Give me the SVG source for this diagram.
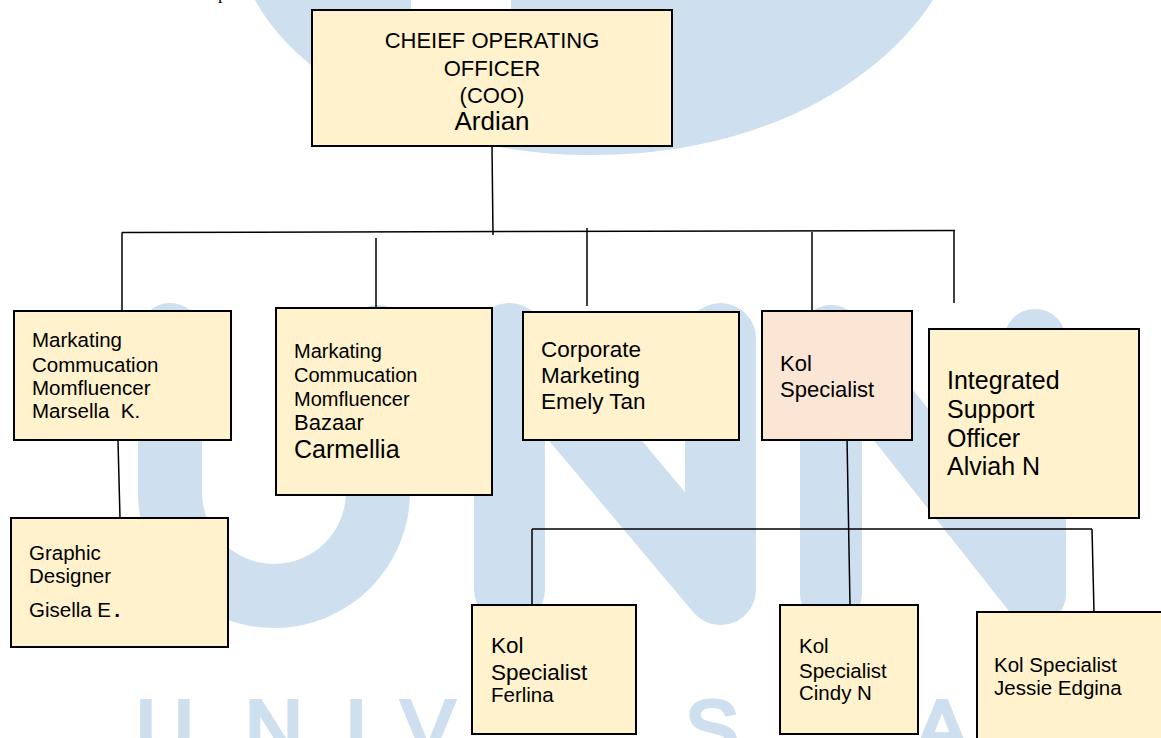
<svg xmlns="http://www.w3.org/2000/svg" width="1161" height="738" viewBox="0 0 1161 738">
<style>
.wm{fill:#cedfef}
.wms{stroke:#cedfef;fill:none;stroke-linecap:round}
.wl{fill:#cedfef;stroke:#cedfef;stroke-width:4;font-family:"Liberation Sans",Arial,sans-serif;font-size:80px;text-anchor:middle}
.box{fill:#fff2cc;stroke:#000;stroke-width:2}
.peach{fill:#fbe5d5}
.t{font-family:"Liberation Sans",Arial,sans-serif;fill:#000}
.ln{stroke:#000;stroke-width:1.5;fill:none}
</style>
<rect width="1161" height="738" fill="#fff"/>
<g id="watermark">
<path class="wm" d="M255,0 C295,75 420,155 592,155 C770,155 885,75 933,0 Z"/>
<rect x="411" y="0" width="100" height="9" fill="#fff"/>
<path class="wm" d="M138,335 A32,32 0 0 1 202,335 L202,492 A72,72 0 0 0 346,492 L346,337 A32,32 0 0 1 410,337 L410,492 A136,136 0 0 1 138,492 Z"/>
<path class="wms" stroke-width="71" d="M509.5,338.5 V589.5 M720.5,338.5 V589.5 M509.5,338.5 L720.5,589.5"/>
<path class="wms" stroke-width="62" d="M831,336 V594 M1035,340 V594 M831,336 L1035,594"/>
<text class="wl" x="165" y="756">U</text>
<text class="wl" x="274" y="756">N</text>
<text class="wl" x="356" y="756">I</text>
<text class="wl" x="428" y="756">V</text>
<text class="wl" x="712" y="756">S</text>
<text class="wl" x="942" y="756">A</text>
</g>
<text x="218" y="-1" font-family="Liberation Serif, serif" font-size="18">p</text>
<g id="connectors" class="ln">
<path d="M492,146 L493,235"/>
<path d="M122,232.5 L955,230.5"/>
<path d="M122,232.5 V310"/>
<path d="M376,238 V308"/>
<path d="M587,228 V306"/>
<path d="M812,232 V310"/>
<path d="M954,231 V303"/>
<path d="M118,441 L120,518"/>
<path d="M847,437 L850,605"/>
<path d="M532,529 H1092"/>
<path d="M532,529 V605"/>
<path d="M1092,529 L1094,612"/>
</g>
<g id="coo">
<rect class="box" x="312" y="10" width="360" height="136"/>
<text class="t" font-size="22" text-anchor="middle"><tspan x="492" y="48">CHEIEF OPERATING</tspan><tspan x="492" y="76">OFFICER</tspan><tspan x="492" y="103">(COO)</tspan><tspan x="492" y="130" font-size="26">Ardian</tspan></text>
</g>
<g id="marsella">
<rect class="box" x="14" y="311" width="217" height="129"/>
<text class="t" font-size="20.5" style="white-space:pre"><tspan x="32" y="347">Markating</tspan><tspan x="32" y="372">Commucation</tspan><tspan x="32" y="395">Momfluencer</tspan><tspan x="32" y="418">Marsella  K.</tspan></text>
</g>
<g id="carmellia">
<rect class="box" x="276" y="308" width="216" height="187"/>
<text class="t" font-size="20"><tspan x="294" y="358">Markating</tspan><tspan x="294" y="382">Commucation</tspan><tspan x="294" y="406">Momfluencer</tspan><tspan x="294" y="430" font-size="22">Bazaar</tspan><tspan x="294" y="458" font-size="25">Carmellia</tspan></text>
</g>
<g id="corporate">
<rect class="box" x="523" y="312" width="216" height="128"/>
<text class="t" font-size="22.5"><tspan x="541" y="357">Corporate</tspan><tspan x="541" y="383">Marketing</tspan><tspan x="541" y="409">Emely Tan</tspan></text>
</g>
<g id="kol">
<rect class="box peach" x="762" y="311" width="150" height="129"/>
<text class="t" font-size="22"><tspan x="780" y="371">Kol</tspan><tspan x="780" y="397">Specialist</tspan></text>
</g>
<g id="integrated">
<rect class="box" x="929" y="329" width="210" height="189"/>
<text class="t" font-size="25"><tspan x="947" y="389">Integrated</tspan><tspan x="947" y="418">Support</tspan><tspan x="947" y="447">Officer</tspan><tspan x="947" y="475">Alviah N</tspan></text>
</g>
<g id="graphic">
<rect class="box" x="11" y="518" width="217" height="129"/>
<text class="t" font-size="20.5"><tspan x="29" y="560">Graphic</tspan><tspan x="29" y="583">Designer</tspan><tspan x="29" y="617">Gisella E<tspan font-family="Liberation Mono, monospace" font-weight="bold">.</tspan></tspan></text>
</g>
<g id="ferlina">
<rect class="box" x="472" y="605" width="164" height="129"/>
<text class="t" font-size="22.5"><tspan x="491" y="653">Kol</tspan><tspan x="491" y="680">Specialist</tspan><tspan x="491" y="702" font-size="20.5">Ferlina</tspan></text>
</g>
<g id="cindy">
<rect class="box" x="780" y="605" width="138" height="129"/>
<text class="t" font-size="20.5"><tspan x="799" y="653">Kol</tspan><tspan x="799" y="678">Specialist</tspan><tspan x="799" y="700">Cindy N</tspan></text>
</g>
<g id="jessie">
<rect class="box" x="977" y="612" width="200" height="140"/>
<text class="t" font-size="20.5"><tspan x="994" y="672">Kol Specialist</tspan><tspan x="994" y="695">Jessie Edgina</tspan></text>
</g>
</svg>
